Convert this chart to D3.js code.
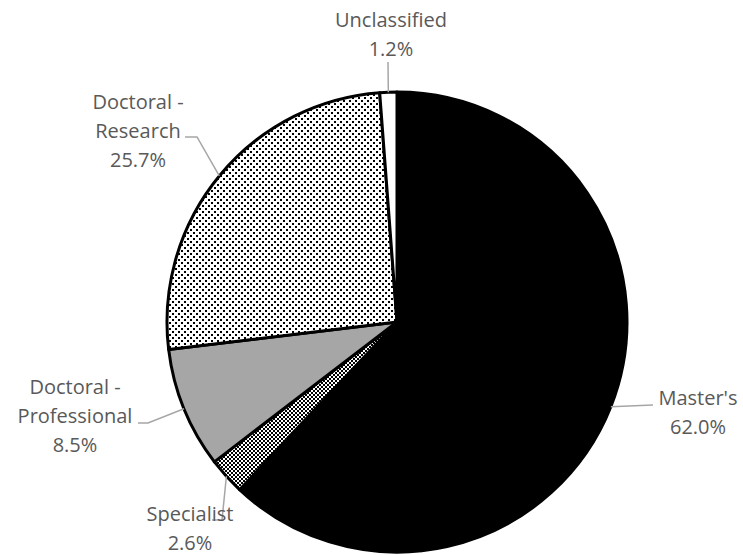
<!DOCTYPE html>
<html>
<head>
<meta charset="utf-8">
<script src="https://cdn.jsdelivr.net/npm/d3@7"></script>
<style>
  body { margin: 0; background: #fff; }
  svg { display: block; }
  .label { font-family: "Open Sans", sans-serif; font-size: 20px; fill: #595959; }
</style>
</head>
<body>
<svg id="chart" width="743" height="555"></svg>
<script>
// data, clockwise from 12 o'clock
var categories = ["Master's", "Specialist", "Doctoral - Professional", "Doctoral - Research", "Unclassified"];
var shares = [62.0, 2.6, 8.5, 25.7, 1.2];

// label layout: text lines, centre x, first line centre y, leader bend/end points
var labelLayout = [
  { lines: ["Master's", "62.0%"], x: 698, y: 398, pts: [[653, 405]] },
  { lines: ["Specialist", "2.6%"], x: 190, y: 514, pts: [[222, 520], [212, 520]] },
  { lines: ["Doctoral -", "Professional", "8.5%"], x: 75, y: 387, pts: [[148, 423], [138, 423]] },
  { lines: ["Doctoral -", "Research", "25.7%"], x: 138, y: 102, pts: [[197, 137], [185, 137]] },
  { lines: ["Unclassified", "1.2%"], x: 391, y: 20, pts: [[388, 62]] }
];

var width = 743, height = 555;
var cx = 397, cy = 322, radius = 230;
var lineGap = 29;

var svg = d3.select("#chart");
var defs = svg.append("defs");

// checker pattern for Specialist
var checker = defs.append("pattern")
    .attr("id", "checker")
    .attr("patternUnits", "userSpaceOnUse")
    .attr("width", 4).attr("height", 4);
checker.append("rect").attr("width", 4).attr("height", 4).attr("fill", "#fff");
checker.append("rect").attr("x", 0).attr("y", 0).attr("width", 2).attr("height", 2).attr("fill", "#000");
checker.append("rect").attr("x", 2).attr("y", 2).attr("width", 2).attr("height", 2).attr("fill", "#000");

// dotted pattern for Research (staggered dots)
var dots = defs.append("pattern")
    .attr("id", "dots")
    .attr("patternUnits", "userSpaceOnUse")
    .attr("width", 6).attr("height", 6);
dots.append("rect").attr("width", 6).attr("height", 6).attr("fill", "#fff");
dots.append("rect").attr("x", 0).attr("y", 0).attr("width", 2).attr("height", 2).attr("fill", "#000");
dots.append("rect").attr("x", 3).attr("y", 3).attr("width", 2).attr("height", 2).attr("fill", "#000");

var fills = ["#000", "url(#checker)", "#a6a6a6", "url(#dots)", "#fff"];

var pie = d3.pie().sort(null).value(function (d) { return d; });
var arcs = pie(shares);

var arc = d3.arc().innerRadius(0).outerRadius(radius);
var edgeArc = d3.arc().innerRadius(radius).outerRadius(radius);

var g = svg.append("g")
    .attr("transform", "translate(" + cx + "," + cy + ")");

g.selectAll("path.slice")
    .data(arcs)
    .enter().append("path")
    .attr("class", "slice")
    .attr("d", arc)
    .attr("fill", function (d, i) { return fills[i]; })
    .attr("stroke", "#000")
    .attr("stroke-width", 3)
    .attr("stroke-linejoin", "round");

// leader lines from slice mid-angle on the rim
var line = d3.line();
svg.selectAll("path.leader")
    .data(arcs)
    .enter().append("path")
    .attr("class", "leader")
    .attr("d", function (d, i) {
        var c = edgeArc.centroid(d);
        var p = [[cx + c[0], cy + c[1]]].concat(labelLayout[i].pts);
        return line(p);
    })
    .attr("fill", "none")
    .attr("stroke", "#a6a6a6")
    .attr("stroke-width", 1.5);

// labels
var labels = svg.selectAll("text.label")
    .data(labelLayout)
    .enter().append("text")
    .attr("class", "label")
    .attr("text-anchor", "middle");

labels.selectAll("tspan")
    .data(function (d) { return d.lines.map(function (t, j) { return { t: t, x: d.x, y: d.y + j * lineGap }; }); })
    .enter().append("tspan")
    .attr("x", function (d) { return d.x; })
    .attr("y", function (d) { return d.y; })
    .attr("dy", "0.35em")
    .text(function (d) { return d.t; });
</script>
</body>
</html>
